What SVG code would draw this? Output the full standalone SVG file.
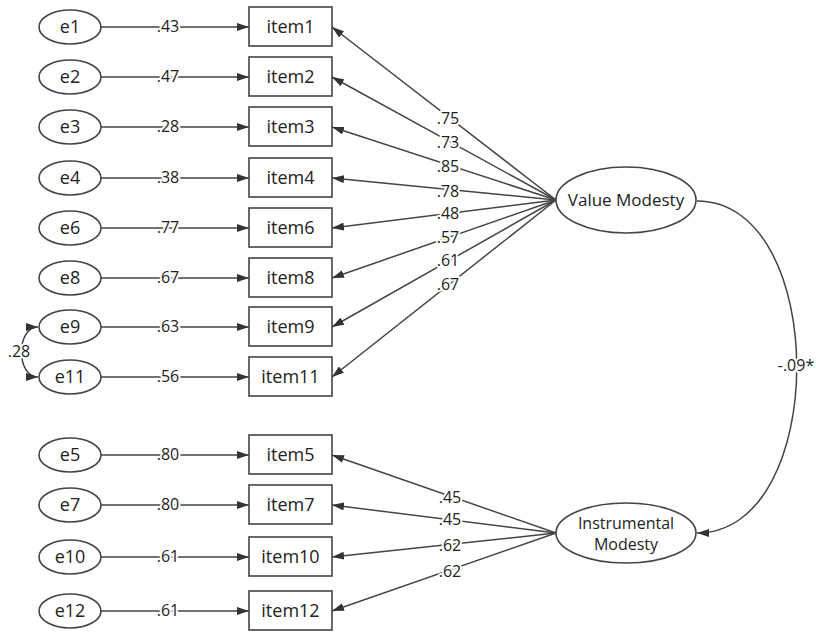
<svg xmlns="http://www.w3.org/2000/svg" width="816" height="635" viewBox="0 0 816 635">
<style>
.n{fill:#fff;stroke:#444;stroke-width:1.6}
.t{font-family:"Open Sans","Noto Sans",sans-serif;font-size:18px;fill:#222;text-anchor:middle}
.l{font-family:"Open Sans","Noto Sans",sans-serif;font-size:16px;fill:#222;text-anchor:middle;stroke:#fff;stroke-width:4;paint-order:stroke;stroke-linejoin:round}
.c{fill:none;stroke:#444;stroke-width:1.5}
.a{marker-end:url(#ah)}
</style>
<defs>
<marker id="ah" viewBox="0 0 12 8" refX="12" refY="4" markerWidth="12" markerHeight="8" markerUnits="userSpaceOnUse" orient="auto-start-reverse">
<path d="M0 0 L12 4 L0 8 Z" fill="#333"/>
</marker>
</defs>
<rect width="816" height="635" fill="#fff"/>
<g id="connectors">
<path class="c a" d="M101 27 H249"/>
<path class="c a" d="M101 77 H249"/>
<path class="c a" d="M101 127 H249"/>
<path class="c a" d="M101 178 H249"/>
<path class="c a" d="M101 228 H249"/>
<path class="c a" d="M101 278 H249"/>
<path class="c a" d="M101 327 H249"/>
<path class="c a" d="M101 377 H249"/>
<path class="c a" d="M101 455 H249"/>
<path class="c a" d="M101 505 H249"/>
<path class="c a" d="M101 557 H249"/>
<path class="c a" d="M101 611 H249"/>
<path class="c a" d="M556 200 L332 27"/>
<path class="c a" d="M556 200 L332 77"/>
<path class="c a" d="M556 200 L332 127"/>
<path class="c a" d="M556 200 L332 178"/>
<path class="c a" d="M556 200 L332 228"/>
<path class="c a" d="M556 200 L332 278"/>
<path class="c a" d="M556 200 L332 327"/>
<path class="c a" d="M556 200 L332 377"/>
<path class="c a" d="M556 533 L332 455"/>
<path class="c a" d="M556 533 L332 505"/>
<path class="c a" d="M556 533 L332 557"/>
<path class="c a" d="M556 533 L332 611"/>
<path class="c a" d="M697 201 C830 201 830 533 697 533"/>
<path class="c a" style="marker-start:url(#ah)" d="M38 327 C16 327 16 377 38 377"/>
<text class="l" x="168" y="32">.43</text>
<text class="l" x="168" y="82">.47</text>
<text class="l" x="168" y="132">.28</text>
<text class="l" x="168" y="183">.38</text>
<text class="l" x="168" y="233">.77</text>
<text class="l" x="168" y="283">.67</text>
<text class="l" x="168" y="332">.63</text>
<text class="l" x="168" y="382">.56</text>
<text class="l" x="168" y="460">.80</text>
<text class="l" x="168" y="510">.80</text>
<text class="l" x="168" y="562">.61</text>
<text class="l" x="168" y="616">.61</text>
<text class="l" x="448" y="124">.75</text>
<text class="l" x="448" y="148">.73</text>
<text class="l" x="448" y="172">.85</text>
<text class="l" x="448" y="197">.78</text>
<text class="l" x="448" y="219">.48</text>
<text class="l" x="448" y="243">.57</text>
<text class="l" x="448" y="266">.61</text>
<text class="l" x="448" y="290">.67</text>
<text class="l" x="450" y="503">.45</text>
<text class="l" x="450" y="525">.45</text>
<text class="l" x="450" y="551">.62</text>
<text class="l" x="450" y="577">.62</text>
<text class="l" x="19" y="357">.28</text>
<text class="l" x="796" y="371">-.09*</text>
</g>
<g id="e1"><ellipse class="n" cx="70" cy="27" rx="31" ry="17"/><text class="t" x="70" y="33">e1</text></g>
<g id="e2"><ellipse class="n" cx="70" cy="77" rx="31" ry="17"/><text class="t" x="70" y="83">e2</text></g>
<g id="e3"><ellipse class="n" cx="70" cy="127" rx="31" ry="17"/><text class="t" x="70" y="133">e3</text></g>
<g id="e4"><ellipse class="n" cx="70" cy="178" rx="31" ry="17"/><text class="t" x="70" y="184">e4</text></g>
<g id="e6"><ellipse class="n" cx="70" cy="228" rx="31" ry="17"/><text class="t" x="70" y="234">e6</text></g>
<g id="e8"><ellipse class="n" cx="70" cy="278" rx="31" ry="17"/><text class="t" x="70" y="284">e8</text></g>
<g id="e9"><ellipse class="n" cx="70" cy="327" rx="31" ry="17"/><text class="t" x="70" y="333">e9</text></g>
<g id="e11"><ellipse class="n" cx="70" cy="377" rx="31" ry="17"/><text class="t" x="70" y="383">e11</text></g>
<g id="e5"><ellipse class="n" cx="70" cy="455" rx="31" ry="17"/><text class="t" x="70" y="461">e5</text></g>
<g id="e7"><ellipse class="n" cx="70" cy="505" rx="31" ry="17"/><text class="t" x="70" y="511">e7</text></g>
<g id="e10"><ellipse class="n" cx="70" cy="557" rx="31" ry="17"/><text class="t" x="70" y="563">e10</text></g>
<g id="e12"><ellipse class="n" cx="70" cy="611" rx="31" ry="17"/><text class="t" x="70" y="617">e12</text></g>
<g id="item1"><rect class="n" x="249" y="7" width="83" height="39"/><text class="t" x="290.5" y="33">item1</text></g>
<g id="item2"><rect class="n" x="249" y="57" width="83" height="39"/><text class="t" x="290.5" y="83">item2</text></g>
<g id="item3"><rect class="n" x="249" y="107" width="83" height="39"/><text class="t" x="290.5" y="133">item3</text></g>
<g id="item4"><rect class="n" x="249" y="158" width="83" height="39"/><text class="t" x="290.5" y="184">item4</text></g>
<g id="item6"><rect class="n" x="249" y="208" width="83" height="39"/><text class="t" x="290.5" y="234">item6</text></g>
<g id="item8"><rect class="n" x="249" y="258" width="83" height="39"/><text class="t" x="290.5" y="284">item8</text></g>
<g id="item9"><rect class="n" x="249" y="307" width="83" height="39"/><text class="t" x="290.5" y="333">item9</text></g>
<g id="item11"><rect class="n" x="249" y="357" width="83" height="39"/><text class="t" x="290.5" y="383">item11</text></g>
<g id="item5"><rect class="n" x="249" y="435" width="83" height="39"/><text class="t" x="290.5" y="461">item5</text></g>
<g id="item7"><rect class="n" x="249" y="485" width="83" height="39"/><text class="t" x="290.5" y="511">item7</text></g>
<g id="item10"><rect class="n" x="249" y="537" width="83" height="39"/><text class="t" x="290.5" y="563">item10</text></g>
<g id="item12"><rect class="n" x="249" y="591" width="83" height="39"/><text class="t" x="290.5" y="617">item12</text></g>
<g id="value-modesty"><ellipse class="n" cx="626" cy="200" rx="70" ry="33"/><text class="t" x="626" y="206" style="font-size:17px">Value Modesty</text></g>
<g id="instrumental-modesty"><ellipse class="n" cx="626" cy="533" rx="70" ry="30"/><text class="t" x="626" y="529" style="font-size:16px">Instrumental</text><text class="t" x="626" y="550" style="font-size:16px">Modesty</text></g>
</svg>
